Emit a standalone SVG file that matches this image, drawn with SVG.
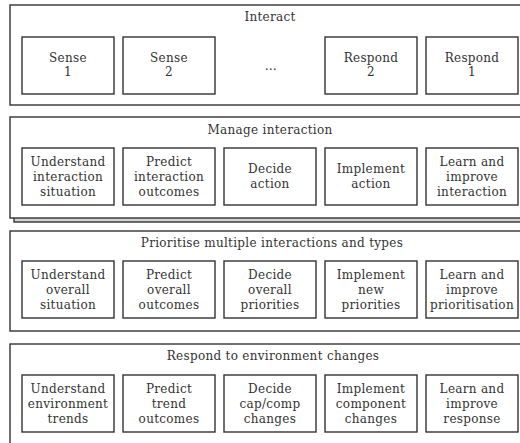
<svg xmlns="http://www.w3.org/2000/svg" width="520" height="443" viewBox="0 0 520 443">
  <style>
    .panel { fill: #ffffff; stroke: #333333; stroke-width: 1.4; }
    .stack { fill: #d4d4d4; stroke: #333333; stroke-width: 1.4; }
    .box { fill: #ffffff; stroke: #333333; stroke-width: 1.4; }
    text { font-family: 'DejaVu Serif', 'Liberation Serif', serif; font-size: 12px; fill: #333333; text-anchor: middle; letter-spacing: 0.3px; }
  </style>
  <rect x="0" y="0" width="520" height="443" fill="#ffffff"/>

  <!-- Layer 1: interaction -->
  <g id="interact">
    <rect class="panel" x="10" y="5" width="520" height="100"/>
    <text x="270" y="21">Interact</text>
  </g>
  <g id="sense-1">
    <rect class="box" x="22" y="37" width="92" height="57"/>
    <text x="68" y="62">Sense</text>
    <text x="68" y="76">1</text>
  </g>
  <g id="sense-2">
    <rect class="box" x="123" y="37" width="92" height="57"/>
    <text x="169" y="62">Sense</text>
    <text x="169" y="76">2</text>
  </g>
  <g id="ellipsis">
    <text x="271" y="70">…</text>
  </g>
  <g id="respond-2">
    <rect class="box" x="325" y="37" width="92" height="57"/>
    <text x="371" y="62">Respond</text>
    <text x="371" y="76">2</text>
  </g>
  <g id="respond-1">
    <rect class="box" x="426" y="37" width="92" height="57"/>
    <text x="472" y="62">Respond</text>
    <text x="472" y="76">1</text>
  </g>

  <!-- Layer 2: manage interaction (stacked) -->
  <g id="manage-interaction">
    <rect class="stack" x="14" y="121" width="520" height="101"/>
    <rect class="panel" x="10" y="117" width="520" height="101"/>
    <text x="270" y="134">Manage interaction</text>
  </g>
  <g id="understand-interaction">
    <rect class="box" x="22" y="148" width="92" height="57"/>
    <text x="68" y="166">Understand</text>
    <text x="68" y="181">interaction</text>
    <text x="68" y="196">situation</text>
  </g>
  <g id="predict-interaction">
    <rect class="box" x="123" y="148" width="92" height="57"/>
    <text x="169" y="166">Predict</text>
    <text x="169" y="181">interaction</text>
    <text x="169" y="196">outcomes</text>
  </g>
  <g id="decide-action">
    <rect class="box" x="224" y="148" width="92" height="57"/>
    <text x="270" y="173">Decide</text>
    <text x="270" y="188">action</text>
  </g>
  <g id="implement-action">
    <rect class="box" x="325" y="148" width="92" height="57"/>
    <text x="371" y="173">Implement</text>
    <text x="371" y="188">action</text>
  </g>
  <g id="learn-interaction">
    <rect class="box" x="426" y="148" width="92" height="57"/>
    <text x="472" y="166">Learn and</text>
    <text x="472" y="181">improve</text>
    <text x="472" y="196">interaction</text>
  </g>

  <!-- Layer 3: prioritisation -->
  <g id="prioritise">
    <rect class="panel" x="10" y="231" width="520" height="100"/>
    <text x="272" y="247">Prioritise multiple interactions and types</text>
  </g>
  <g id="understand-overall">
    <rect class="box" x="22" y="261" width="92" height="57"/>
    <text x="68" y="279">Understand</text>
    <text x="68" y="294">overall</text>
    <text x="68" y="309">situation</text>
  </g>
  <g id="predict-overall">
    <rect class="box" x="123" y="261" width="92" height="57"/>
    <text x="169" y="279">Predict</text>
    <text x="169" y="294">overall</text>
    <text x="169" y="309">outcomes</text>
  </g>
  <g id="decide-priorities">
    <rect class="box" x="224" y="261" width="92" height="57"/>
    <text x="270" y="279">Decide</text>
    <text x="270" y="294">overall</text>
    <text x="270" y="309">priorities</text>
  </g>
  <g id="implement-priorities">
    <rect class="box" x="325" y="261" width="92" height="57"/>
    <text x="371" y="279">Implement</text>
    <text x="371" y="294">new</text>
    <text x="371" y="309">priorities</text>
  </g>
  <g id="learn-prioritisation">
    <rect class="box" x="426" y="261" width="92" height="57"/>
    <text x="472" y="279">Learn and</text>
    <text x="472" y="294">improve</text>
    <text x="472" y="309">prioritisation</text>
  </g>

  <!-- Layer 4: environment response -->
  <g id="respond-environment">
    <rect class="panel" x="10" y="344" width="520" height="110"/>
    <text x="273" y="360">Respond to environment changes</text>
  </g>
  <g id="understand-environment">
    <rect class="box" x="22" y="375" width="92" height="57"/>
    <text x="68" y="393">Understand</text>
    <text x="68" y="408">environment</text>
    <text x="68" y="423">trends</text>
  </g>
  <g id="predict-trend">
    <rect class="box" x="123" y="375" width="92" height="57"/>
    <text x="169" y="393">Predict</text>
    <text x="169" y="408">trend</text>
    <text x="169" y="423">outcomes</text>
  </g>
  <g id="decide-changes">
    <rect class="box" x="224" y="375" width="92" height="57"/>
    <text x="270" y="393">Decide</text>
    <text x="270" y="408">cap/comp</text>
    <text x="270" y="423">changes</text>
  </g>
  <g id="implement-changes">
    <rect class="box" x="325" y="375" width="92" height="57"/>
    <text x="371" y="393">Implement</text>
    <text x="371" y="408">component</text>
    <text x="371" y="423">changes</text>
  </g>
  <g id="learn-response">
    <rect class="box" x="426" y="375" width="92" height="57"/>
    <text x="472" y="393">Learn and</text>
    <text x="472" y="408">improve</text>
    <text x="472" y="423">response</text>
  </g>
</svg>
